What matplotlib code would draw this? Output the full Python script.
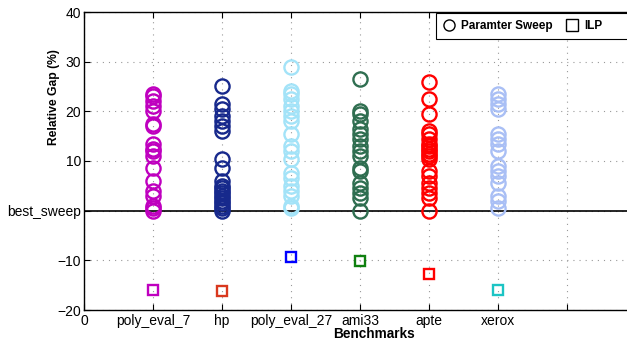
import numpy as np
import matplotlib
matplotlib.use("Agg")
import matplotlib.pyplot as plt
from matplotlib.lines import Line2D

plt.rcParams['font.family'] = ['Liberation Sans', 'DejaVu Sans']

# ---------------------------------------------------------
# DATA
# ---------------------------------------------------------
benchmarks = ["poly_eval_7", "hp", "poly_eval_27", "ami33", "apte", "xerox"]

sweep_poly_eval_7 = [23.5, 23, 22, 21, 20, 17.5, 17, 13.5, 12.5, 12, 11, 8.5, 6, 4, 3, 1, 0.5, 0]
sweep_hp = [25, 21.5, 20.5, 19, 18, 17, 16, 10.5, 8.5, 6, 5, 4.5, 4, 3.5, 3, 2.5, 2, 1.5, 1, 0.5, 0]
sweep_poly_eval_27 = [29, 24, 23.5, 22.5, 21, 20, 19, 18, 15.5, 13, 12, 10.5, 7.5, 6.5, 5, 4, 3, 1, 0.5]
sweep_ami33 = [26.5, 20, 19.5, 18, 16.5, 15.5, 14.5, 13, 12, 11, 8.5, 8, 5.5, 4.5, 3.5, 2.5, 0]
sweep_apte = [26, 22.5, 19.5, 16, 15.5, 14.5, 13.5, 13, 12.5, 12, 11.5, 11, 10.5, 8, 7, 5.5, 4.5, 3.5, 2.5, 0]
sweep_xerox = [23.5, 22.5, 21.5, 20.5, 15.5, 14.5, 13.5, 12, 9, 8, 7, 5.5, 3, 2, 0.5]

ilp_gap = [-16, -16.2, -9.4, -10.2, -12.8, -15.9]

sweep_colors = ['#bf00bf', '#17298c', '#a3e3f8', '#2f6e50', '#ff0000', '#a9bff5']
ilp_colors = ['#bf00bf', '#d9381e', '#0000ff', '#108010', '#ff0000', '#1cc4c4']

y_ticks = [-20, -10, 0, 10, 20, 30, 40]
y_tick_labels = ['\u221220', '\u221210', 'best_sweep', '10', '20', '30', '40']

# ---------------------------------------------------------
# PLOT
# ---------------------------------------------------------
fig = plt.figure(figsize=(6.27, 3.40), dpi=100)
ax = fig.add_axes([84 / 627, 30 / 340, 580 / 627, 298 / 340])

sweeps = [sweep_poly_eval_7, sweep_hp, sweep_poly_eval_27,
          sweep_ami33, sweep_apte, sweep_xerox]

for i, vals in enumerate(sweeps):
    ax.plot(np.full(len(vals), i + 1), vals, linestyle='none', marker='o',
            markersize=10.2, markerfacecolor='none', markeredgewidth=1.7,
            markeredgecolor=sweep_colors[i], zorder=3)

for i, v in enumerate(ilp_gap):
    ax.plot(i + 1, v, linestyle='none', marker='s', markersize=7.8,
            markerfacecolor='none', markeredgewidth=1.7,
            markeredgecolor=ilp_colors[i], zorder=3)

# best sweep reference line
ax.axhline(0, color='black', linewidth=1.2, zorder=2)

ax.set_xlim(0, 8.4)
ax.set_ylim(-20, 40)
ax.set_xticks(range(0, 8))
ax.set_xticklabels(['0'] + benchmarks + [''])
ax.set_yticks(y_ticks)
ax.set_yticklabels(y_tick_labels)

ax.grid(True, linestyle=(0, (1, 4.5)), color='#999999', linewidth=0.8)
ax.tick_params(direction='in', length=4, width=0.8, labelsize=10,
               top=True, right=False, pad=3)
ax.tick_params(axis='y', pad=2)
for side in ['left', 'bottom', 'top']:
    ax.spines[side].set_linewidth(1.0)
ax.spines['right'].set_visible(False)

ax.set_xlabel('Benchmarks', fontsize=9.8, fontweight='bold')
ax.xaxis.set_label_coords(0.5, -0.057)
ax.set_ylabel('Relative Gap (%)', fontsize=8.7, fontweight='bold')
ax.yaxis.set_label_coords(-0.042, 0.715)

handles = [
    Line2D([], [], linestyle='none', marker='o', markersize=8,
           markerfacecolor='none', markeredgecolor='black', markeredgewidth=1.0),
    Line2D([], [], linestyle='none', marker='s', markersize=8,
           markerfacecolor='none', markeredgecolor='black', markeredgewidth=1.0),
    Line2D([], [], linestyle='none'),
]
leg = ax.legend(handles, ['Paramter Sweep', 'ILP', '      '], ncol=3,
                loc='upper left', bbox_to_anchor=(436 / 627, 1 - 13 / 340),
                bbox_transform=fig.transFigure, prop={'weight': 'bold', 'size': 8.5},
                handlelength=1.0, handletextpad=0.5, columnspacing=1.2,
                fancybox=False, framealpha=1, edgecolor='black',
                borderpad=0.6, borderaxespad=0)
leg.get_frame().set_linewidth(0.8)

fig.savefig('out.png', dpi=100)
